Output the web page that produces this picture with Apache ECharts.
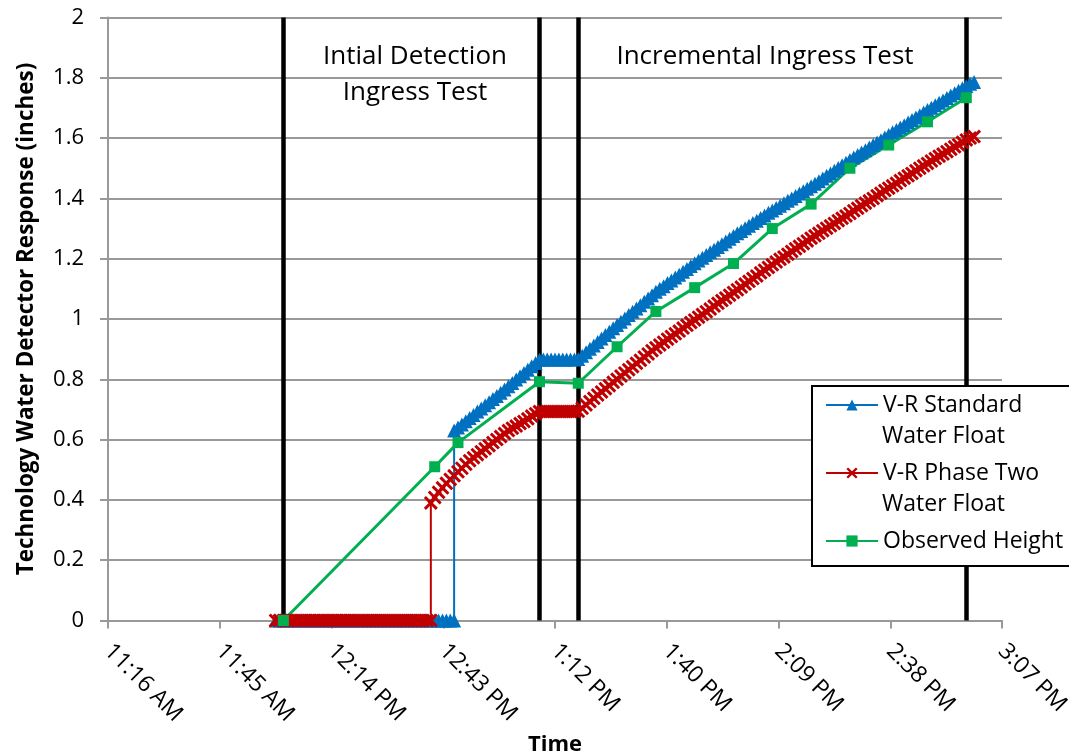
<!DOCTYPE html>
<html>
<head>
<meta charset="utf-8">
<script src="https://cdn.jsdelivr.net/npm/echarts@6/dist/echarts.min.js"></script>
<style>
html,body{margin:0;padding:0;background:#fff;}
#chart{width:1069px;height:755px;}
</style>
</head>
<body>
<div id="chart"></div>
<script>
// ---- data (times are 24h clock "H:MM") ----
const xTickLabels = ['11:16 AM','11:45 AM','12:14 PM','12:43 PM','1:12 PM','1:40 PM','2:09 PM','2:38 PM','3:07 PM'];
const yTickLabels = ['0','0.2','0.4','0.6','0.8','1','1.2','1.4','1.6','1.8','2'];
const seriesNames = ['V-R Standard Water Float','V-R Phase Two Water Float','Observed Height'];
const legendFirstLines = ['V-R Standard','V-R Phase Two','Observed Height'];
const legendSecondLines = ['Water Float','Water Float'];
const phaseBoundaryTimes = ['12:02','13:08','13:18','14:58'];
const phaseLabels = ['Intial Detection', 'Ingress Test', 'Incremental Ingress Test'];

// float sensors were logged once a minute, starting at 12:00;
// a [before, after] pair marks the minute where the reading jumped
const floatLogStart = '12:00';
const floatLogStepMinutes = 1;

const standardFloat = [
// 12:00 - 12:45
0,0,0,0,0,0,0,0,0,0, 0,0,0,0,0,0,0,0,0,0, 0,0,0,0,0,0,0,0,0,0, 0,0,0,0,0,0,0,0,0,0, 0,0,0,0,0,0,
// 12:46 (jump) - 13:08
[0,0.63],0.64,0.65,0.661,0.672,0.682,0.693,0.703,0.714,0.724,0.735,0.745,0.755,0.766,0.777,0.788,0.799,0.81,0.821,0.832,0.843,0.854,0.865,
// 13:09 - 13:18
0.866,0.866,0.866,0.866,0.866,0.866,0.866,0.866,0.866,0.867,
// 13:19 - 14:00
0.878,0.89,0.901,0.912,0.924,0.935,0.947,0.958,0.969,0.98,0.991,1.002,1.013,1.024,1.035,1.046,1.057,1.068,1.079,1.09,
1.1,1.109,1.119,1.128,1.138,1.147,1.157,1.166,1.176,1.185,1.194,1.203,1.212,1.221,1.23,1.239,1.248,1.257,1.266,1.275,
1.284,1.292,
// 14:01 - 15:00
1.301,1.309,1.318,1.326,1.335,1.343,1.352,1.36,1.368,1.376,1.384,1.392,1.4,1.408,1.416,1.424,1.432,1.44,1.449,1.457,
1.466,1.475,1.483,1.492,1.501,1.51,1.518,1.527,1.536,1.544,1.552,1.56,1.569,1.577,1.585,1.593,1.602,1.61,1.619,1.627,
1.635,1.643,1.652,1.66,1.668,1.676,1.685,1.693,1.701,1.709,1.717,1.725,1.733,1.741,1.749,1.757,1.765,1.773,1.78,1.786
];

const phaseTwoFloat = [
// 12:00 - 12:39
0,0,0,0,0,0,0,0,0,0, 0,0,0,0,0,0,0,0,0,0, 0,0,0,0,0,0,0,0,0,0, 0,0,0,0,0,0,0,0,0,0,
// 12:40 (jump) - 13:08
[0,0.39],0.408,0.425,0.44,0.455,0.468,0.48,0.493,0.505,0.518,0.53,0.54,0.55,0.56,0.57,0.58,0.59,0.6,0.61,0.62,
0.63,0.638,0.645,0.653,0.66,0.669,0.678,0.686,0.693,
// 13:09 - 13:18
0.693,0.693,0.693,0.693,0.693,0.693,0.693,0.693,0.693,0.694,
// 13:19 - 14:00
0.704,0.715,0.726,0.737,0.748,0.758,0.769,0.779,0.79,0.8,0.811,0.821,0.832,0.842,0.853,0.863,0.874,0.884,0.895,0.905,
0.914,0.923,0.933,0.942,0.951,0.96,0.97,0.979,0.988,0.997,1.006,1.015,1.024,1.033,1.043,1.052,1.061,1.07,1.079,1.088,
1.097,1.106,
// 14:01 - 15:00
1.116,1.125,1.134,1.143,1.153,1.162,1.171,1.18,1.189,1.198,1.206,1.215,1.224,1.233,1.241,1.25,1.259,1.268,1.276,1.284,
1.293,1.301,1.309,1.317,1.326,1.334,1.342,1.35,1.359,1.367,1.376,1.384,1.392,1.4,1.409,1.417,1.426,1.434,1.442,1.45,
1.459,1.467,1.475,1.483,1.492,1.5,1.508,1.516,1.524,1.532,1.54,1.547,1.555,1.563,1.571,1.578,1.586,1.594,1.6,1.605
];

const observedTimes = ['12:02','12:41','12:47','13:08','13:18','13:28','13:38','13:48','13:58','14:08','14:18','14:28','14:38','14:48','14:58'];
const observedHeight = [0,0.51,0.59,0.792,0.787,0.908,1.025,1.104,1.184,1.30,1.381,1.50,1.577,1.654,1.734];

// ---- axis mapping: x = (fraction of day - 0.47) * 1000, ticks every 0.02 day ----
const AXIS_START_DAY = 0.47;
function minutesOf(t) { const p = t.split(':').map(Number); return p[0] * 60 + p[1]; }
function minToX(m) { return +((m / 1440 - AXIS_START_DAY) * 1000).toFixed(4); }
const toX = t => minToX(minutesOf(t));
const loggedPoints = vals => {
  const out = [];
  vals.forEach((v, i) => {
    const x = minToX(minutesOf(floatLogStart) + i * floatLogStepMinutes);
    (Array.isArray(v) ? v : [v]).forEach(y => out.push([x, y]));
  });
  return out;
};
const pairedPoints = (times, vals) => vals.map((v, i) => [toX(times[i]), v]);

const FONT = '"Open Sans", "Liberation Sans", sans-serif';
const GRAY = '#999999';
const crossPath = 'path://M0,1.5L1.5,0L5,3.5L8.5,0L10,1.5L6.5,5L10,8.5L8.5,10L5,6.5L1.5,10L0,8.5L3.5,5Z';

const LEG_TEXT_X = 882, LEG_ROW1 = 405, LEG_ROW_STEP = 68, LEG_LINE_H = 31.5;

const chart = echarts.init(document.getElementById('chart'), null, {renderer: 'canvas'});
chart.setOption({
  animation: false,
  backgroundColor: '#ffffff',
  textStyle: {fontFamily: FONT},
  grid: {left: 108, right: 67, top: 17.5, bottom: 134.5, outerBoundsMode: 'none', containLabel: false},
  xAxis: {
    type: 'value', min: 0, max: 160, interval: 20,
    name: 'Time', nameLocation: 'middle', nameGap: 110,
    nameTextStyle: {fontFamily: FONT, fontSize: 22, fontWeight: 'bold', color: '#000'},
    axisLine: {show: true, lineStyle: {color: GRAY, width: 2}},
    axisTick: {show: true, length: 8, inside: false, lineStyle: {color: GRAY, width: 2}},
    splitLine: {show: false},
    axisLabel: {
      rotate: -45, margin: 27, fontFamily: FONT, fontSize: 23, color: '#000',
      formatter: v => xTickLabels[Math.round(v / 20)] || ''
    }
  },
  yAxis: {
    type: 'value', min: 0, max: 2, interval: 0.2,
    name: 'Technology Water Detector Response (inches)', nameLocation: 'middle', nameGap: 70,
    nameTextStyle: {fontFamily: FONT, fontSize: 22.5, fontWeight: 'bold', color: '#000'},
    axisLine: {show: true, lineStyle: {color: GRAY, width: 2}},
    axisTick: {show: true, length: 8, inside: false, lineStyle: {color: GRAY, width: 2}},
    splitLine: {show: true, lineStyle: {color: GRAY, width: 2}},
    axisLabel: {
      margin: 24, fontFamily: FONT, fontSize: 22, color: '#000',
      formatter: v => yTickLabels[Math.round(v / 0.2)]
    }
  },
  legend: {
    orient: 'vertical', left: 825, top: LEG_ROW1 - LEG_LINE_H / 2, padding: 0, z: 10,
    itemWidth: 52, itemHeight: 14, itemGap: LEG_ROW_STEP - LEG_LINE_H,
    data: seriesNames,
    textStyle: {fontFamily: FONT, fontSize: 23, color: '#000', lineHeight: LEG_LINE_H},
    formatter: name => legendFirstLines[seriesNames.indexOf(name)],
    selectedMode: false
  },
  graphic: [
    {type: 'rect', z: 3, silent: true, shape: {x: 812, y: 386, width: 262, height: 180},
     style: {fill: '#fff', stroke: '#000', lineWidth: 2}},
    {type: 'text', z: 11, silent: true, x: LEG_TEXT_X, y: LEG_ROW1 + LEG_LINE_H,
     style: {text: legendSecondLines[0], fontFamily: FONT, fontSize: 23, fill: '#000', textAlign: 'left', textVerticalAlign: 'middle'}},
    {type: 'text', z: 11, silent: true, x: LEG_TEXT_X, y: LEG_ROW1 + LEG_ROW_STEP + LEG_LINE_H,
     style: {text: legendSecondLines[1], fontFamily: FONT, fontSize: 23, fill: '#000', textAlign: 'left', textVerticalAlign: 'middle'}},
    {type: 'text', z: 3, silent: true, x: 415, y: 57,
     style: {text: phaseLabels[0], fontFamily: FONT, fontSize: 26, fill: '#000', textAlign: 'center', textVerticalAlign: 'middle'}},
    {type: 'text', z: 3, silent: true, x: 415, y: 93,
     style: {text: phaseLabels[1], fontFamily: FONT, fontSize: 26, fill: '#000', textAlign: 'center', textVerticalAlign: 'middle'}},
    {type: 'text', z: 3, silent: true, x: 765, y: 57,
     style: {text: phaseLabels[2], fontFamily: FONT, fontSize: 26, fill: '#000', textAlign: 'center', textVerticalAlign: 'middle'}}
  ],
  series: [
    {
      name: 'phase boundaries', type: 'line', z: 1, data: [], silent: true,
      markLine: {
        z: 1, silent: true, symbol: ['none', 'none'], label: {show: false},
        lineStyle: {color: '#000', width: 4.5, type: 'solid'},
        emphasis: {disabled: true},
        data: phaseBoundaryTimes.map(t => ({xAxis: toX(t)}))
      }
    },
    {
      name: seriesNames[0], type: 'line', z: 2, data: loggedPoints(standardFloat),
      showAllSymbol: true, symbol: 'triangle', symbolSize: 14,
      itemStyle: {color: '#0070C0'}, lineStyle: {color: '#0070C0', width: 2},
      emphasis: {disabled: true}
    },
    {
      name: seriesNames[1], type: 'line', z: 2, data: loggedPoints(phaseTwoFloat),
      showAllSymbol: true, symbol: crossPath, symbolSize: 14,
      itemStyle: {color: '#C00000'}, lineStyle: {color: '#C00000', width: 2},
      emphasis: {disabled: true}
    },
    {
      name: seriesNames[2], type: 'line', z: 2, data: pairedPoints(observedTimes, observedHeight),
      showAllSymbol: true, symbol: 'rect', symbolSize: 11,
      itemStyle: {color: '#00B050'}, lineStyle: {color: '#00B050', width: 3},
      emphasis: {disabled: true}
    }
  ]
});
</script>
</body>
</html>
